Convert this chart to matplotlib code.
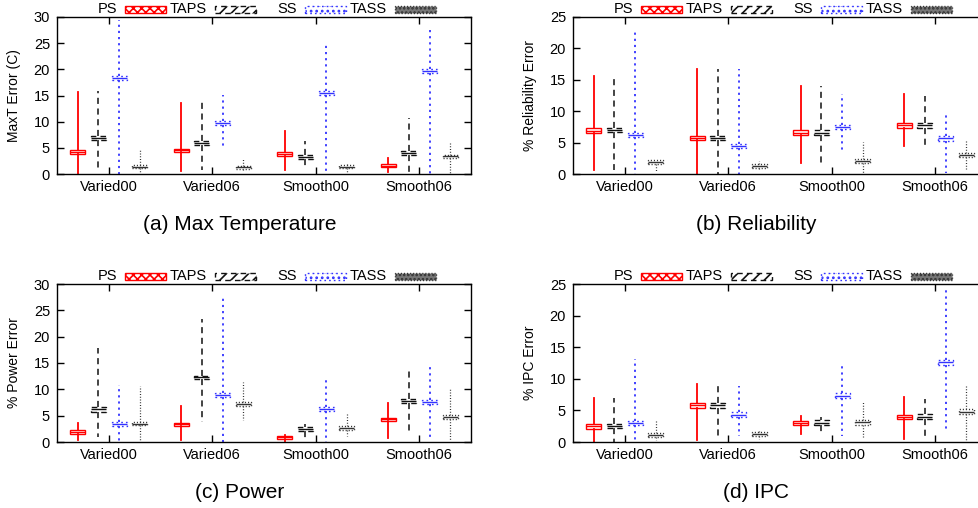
import matplotlib.pyplot as plt
from matplotlib.patches import Rectangle

plt.rcParams['font.family'] = ['Liberation Sans', 'DejaVu Sans']
plt.rcParams['hatch.linewidth'] = 1.2

groups = ["Varied00", "Varied06", "Smooth00", "Smooth06"]
series = ["PS", "TAPS", "SS", "TASS"]

# each stat: one row per series (PS, TAPS, SS, TASS), one column per group
maxt_lo = [[0.0, 0.6, 0.8, 0.4], [0.6, 0.7, 1.3, 0.4], [0.0, 4.8, 0.0, 0.0], [0.0, 0.7, 0.4, 0.0]]
maxt_q1 = [[3.8, 4.2, 3.5, 1.3], [6.5, 5.6, 2.9, 3.65], [18.0, 9.4, 15.1, 19.3], [1.15, 1.0, 1.15, 3.1]]
maxt_med = [[4.2, 4.5, 3.9, 1.6], [6.8, 6.0, 3.3, 4.0], [18.3, 9.8, 15.5, 19.6], [1.4, 1.25, 1.4, 3.4]]
maxt_q3 = [[4.5, 4.8, 4.2, 2.0], [7.2, 6.3, 3.7, 4.35], [18.7, 10.2, 15.9, 20.0], [1.7, 1.5, 1.7, 3.7]]
maxt_hi = [[15.6, 13.6, 8.2, 3.0], [15.8, 13.9, 6.3, 10.7], [29.5, 15.1, 24.8, 27.8], [4.7, 3.0, 2.1, 6.1]]

rel_lo = [[0.7, 0.0, 1.75, 4.5], [0.7, 0.0, 1.75, 4.5], [0.0, 0.0, 3.9, 0.2], [0.3, 0.6, 0.2, 0.7]]
rel_q1 = [[6.55, 5.4, 6.2, 7.4], [6.7, 5.4, 6.25, 7.4], [5.9, 4.2, 7.1, 5.3], [1.65, 1.0, 1.75, 2.7]]
rel_med = [[6.9, 5.7, 6.6, 7.75], [7.0, 5.75, 6.6, 7.8], [6.2, 4.5, 7.5, 5.7], [1.9, 1.35, 2.1, 3.1]]
rel_q3 = [[7.3, 6.0, 7.0, 8.1], [7.3, 6.0, 7.0, 8.15], [6.55, 4.85, 7.8, 6.0], [2.2, 1.65, 2.45, 3.4]]
rel_hi = [[15.6, 16.7, 14.0, 12.7], [15.5, 16.7, 14.0, 12.4], [22.8, 16.7, 12.7, 9.4], [2.3, 2.1, 5.1, 5.4]]

pow_lo = [[0.45, 0.45, 0.0, 0.75], [1.0, 3.8, 0.6, 1.4], [0.0, 0.0, 0.0, 0.45], [0.0, 4.2, 1.15, 0.3]]
pow_q1 = [[1.55, 3.0, 0.6, 3.95], [5.75, 11.9, 2.1, 7.35], [3.05, 8.55, 5.9, 7.15], [3.2, 6.8, 2.25, 4.4]]
pow_med = [[1.9, 3.4, 0.9, 4.3], [6.2, 12.3, 2.5, 7.7], [3.4, 8.9, 6.3, 7.6], [3.5, 7.2, 2.6, 4.75]]
pow_q3 = [[2.2, 3.7, 1.2, 4.65], [6.6, 12.6, 2.9, 8.1], [3.8, 9.3, 6.7, 8.0], [3.8, 7.65, 3.05, 5.1]]
pow_hi = [[3.6, 6.8, 1.3, 7.5], [17.9, 23.3, 3.5, 14.2], [10.85, 27.6, 11.7, 14.7], [10.65, 11.3, 5.55, 10.2]]

ipc_lo = [[0.0, 0.25, 1.3, 0.4], [0.0, 0.25, 1.3, 0.35], [0.0, 0.9, 0.9, 1.7], [0.25, 0.5, 0.8, 0.35]]
ipc_q1 = [[2.1, 5.4, 2.65, 3.6], [2.2, 5.4, 2.65, 3.65], [2.65, 4.0, 7.0, 12.2], [0.8, 0.95, 2.75, 4.45]]
ipc_med = [[2.5, 5.8, 3.0, 4.0], [2.6, 5.8, 3.0, 4.0], [3.0, 4.3, 7.35, 12.6], [1.1, 1.3, 3.1, 4.8]]
ipc_q3 = [[2.8, 6.1, 3.35, 4.35], [2.9, 6.1, 3.45, 4.4], [3.35, 4.7, 7.7, 12.9], [1.45, 1.6, 3.45, 5.15]]
ipc_hi = [[6.9, 9.15, 4.1, 7.1], [6.9, 9.15, 3.9, 6.75], [13.2, 8.9, 12.4, 24.0], [3.45, 1.85, 6.4, 9.05]]

# figure size in pixels
W, H = 979, 508
fig = plt.figure(figsize=(W / 100, H / 100), dpi=100)

colors = ["#ff0000", "#111111", "#3333ff", "#333333"]
styles = ["-", (0, (4, 3)), (0, (1.2, 2.2)), (0, (0.8, 1.4))]
widths_ln = [1.3, 1.1, 1.3, 0.9]
offsets = [-0.3, -0.1, 0.1, 0.3]
key_hatch = ["xxxx", "///", "...", "...."]
key_face = ["white", "white", "white", "#777777"]


def px(x, y):
    return x / W, 1 - y / H


def draw_panel(left, top, bottom, ymax, ylabel, caption, cap_xy, stats):
    lo, q1, med, q3, hi = stats
    x0, y1 = px(left, top)
    _, y0 = px(left, bottom)
    ax = fig.add_axes([x0, y0, 414 / W, y1 - y0])
    for s in range(len(series)):
        bstats = []
        for g in range(len(groups)):
            bstats.append(dict(whislo=lo[s][g], q1=q1[s][g], med=med[s][g],
                               q3=q3[s][g], whishi=hi[s][g]))
        pos = [g + 1 + offsets[s] for g in range(len(groups))]
        c = colors[s]
        ax.bxp(bstats, positions=pos, widths=0.145, showcaps=False,
               showfliers=False, patch_artist=True, manage_ticks=False,
               boxprops=dict(facecolor="white", edgecolor=c, linestyle=styles[s],
                             linewidth=1.0),
               whiskerprops=dict(color=c, linestyle=styles[s], linewidth=widths_ln[s]),
               medianprops=dict(color=c, linewidth=1.0, linestyle="-"))
    ax.set_xlim(0.5, 4.5)
    ax.set_ylim(0, ymax)
    ax.set_yticks(range(0, ymax + 1, 5))
    ax.set_xticks(range(1, len(groups) + 1))
    ax.set_xticklabels(groups)
    ax.tick_params(direction="in", length=5, width=1, top=True, right=True,
                   labelsize=10.5, colors="black")
    ax.tick_params(axis="x", pad=4)
    ax.tick_params(axis="y", pad=5)
    for sp in ax.spines.values():
        sp.set_linewidth(1.0)
    ax.set_ylabel(ylabel, fontsize=10)
    ax.yaxis.set_label_coords(-0.087, 0.5)

    # key above the plot
    ky = top - 8
    for i, name in enumerate(series):
        tx = left + 60 + 90 * i
        fig.text(*px(tx, ky), name, ha="right", va="center", fontsize=10.5)
        rx, ry = px(tx + 8, ky + 3.5)
        r = Rectangle((rx, ry), 41 / W, 7 / H, transform=fig.transFigure,
                      facecolor=key_face[i], edgecolor=colors[i], hatch=key_hatch[i],
                      linestyle=styles[i], linewidth=1.0)
        fig.add_artist(r)

    fig.text(*px(*cap_xy), caption, ha="center", va="center", fontsize=15)
    return ax


draw_panel(57, 17, 174, 30, "MaxT Error (C)", "(a) Max Temperature", (240, 225),
           (maxt_lo, maxt_q1, maxt_med, maxt_q3, maxt_hi))
draw_panel(573, 17, 174, 25, "% Reliability Error", "(b) Reliability", (756, 225),
           (rel_lo, rel_q1, rel_med, rel_q3, rel_hi))
draw_panel(57, 284, 442, 30, "% Power Error", "(c) Power", (240, 493),
           (pow_lo, pow_q1, pow_med, pow_q3, pow_hi))
draw_panel(573, 284, 442, 25, "% IPC Error", "(d) IPC", (756, 493),
           (ipc_lo, ipc_q1, ipc_med, ipc_q3, ipc_hi))

fig.savefig("out.png", dpi=100)
